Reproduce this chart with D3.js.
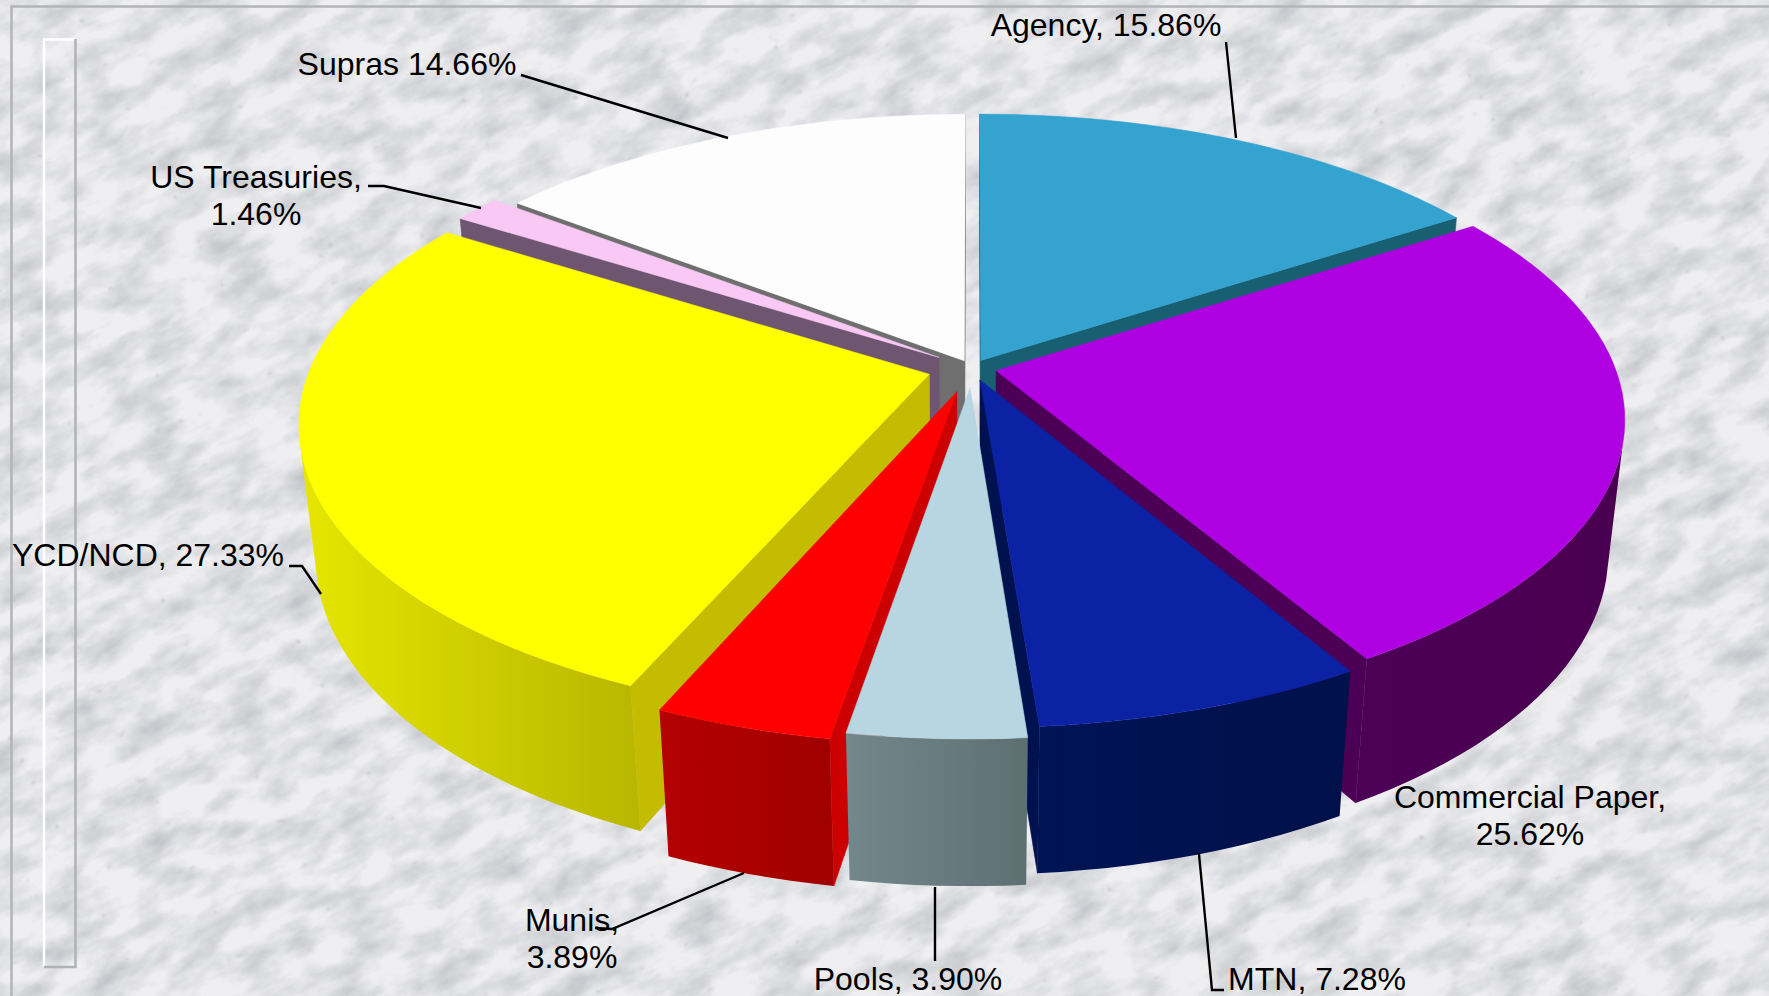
<!DOCTYPE html>
<html>
<head>
<meta charset="utf-8">
<script src="https://cdn.jsdelivr.net/npm/d3@7"></script>
<style>
  html, body { margin: 0; padding: 0; background: #e8e8ec; overflow: hidden; }
</style>
</head>
<body>
<div id="chart"></div>
<script>
// Data
const categories = ["Agency", "Commercial Paper", "MTN", "Pools", "Munis", "YCD/NCD", "US Treasuries", "Supras"];
const shares = [15.86, 25.62, 7.28, 3.90, 3.89, 27.33, 1.46, 14.66];
const labelLines = [
  ["Agency, 15.86%"],
  ["Commercial Paper,", "25.62%"],
  ["MTN, 7.28%"],
  ["Pools, 3.90%"],
  ["Munis,", "3.89%"],
  ["YCD/NCD, 27.33%"],
  ["US Treasuries,", "1.46%"],
  ["Supras 14.66%"],
];

// Styles and layout, same order as categories
const explode = [0.03, 0.04, 0.043, 0.068, 0.085, 0.072, 0.065, 0.028];
const topColors = ["#35a3cf", "#ae00e0", "#0c22a5", "#b7d6e2", "#ff0000", "#ffff00", "#f9c8f5", "#fdfdfd"];
const cutColors = ["#185f72", "#4b0056", "#00114f", "#65787c", "#cc0000", "#c4bc00", "#6f5670", "#6f6f6f"];
const wallLeft = ["#1c6a80", "#4c0056", "#001354", "#73888c", "#b40000", "#e6e600", "#6f5670", "#6f6f6f"];
const wallRight = ["#1c6a80", "#4a0050", "#00104a", "#5e6f72", "#a00000", "#b8b600", "#6f5670", "#6f6f6f"];
const paintOrder = [0, 7, 6, 1, 5, 2, 4, 3];
const labelPos = [
  { x: 1106, y: 36 },
  { x: 1530, y: 808 },
  { x: 1317, y: 990 },
  { x: 908, y: 990 },
  { x: 572, y: 931 },
  { x: 148, y: 566 },
  { x: 256, y: 188 },
  { x: 407, y: 75 },
];
const leaders = [
  [[1226, 42], [1236, 138]],
  [],
  [[1199, 854], [1212, 990], [1224, 990]],
  [[935, 887], [935, 961]],
  [[595, 928], [612, 929], [744, 873]],
  [[289, 566], [302, 566], [321, 594]],
  [[368, 186], [384, 186], [481, 208]],
  [[521, 75], [728, 138]],
];

const width = 1769;
const height = 996;

// Projection of the pie: X right, Y to the back, z 0 = top, 1 = bottom
const view = { cx: 972, cy: 368, radius: 619, depth: 288, wall: 135, persp: 0.16, drop: 0.025 };

function project(X, Y, z) {
  const s = 1 / (1 + view.persp * Y + view.drop * z);
  return [view.cx + view.radius * X * s, view.cy - view.depth * Y * s + view.wall * z * s];
}

const svg = d3.select("#chart").append("svg").attr("width", width).attr("height", height)
  .style("display", "block");

// Marble background
const defs = svg.append("defs");
const marble = defs.append("filter").attr("id", "marble")
  .attr("x", 0).attr("y", 0).attr("width", "100%").attr("height", "100%")
  .attr("color-interpolation-filters", "sRGB");
marble.append("feTurbulence").attr("type", "fractalNoise").attr("baseFrequency", "0.02 0.04")
  .attr("numOctaves", 6).attr("seed", 23).attr("result", "cloud");
marble.append("feColorMatrix").attr("in", "cloud").attr("type", "matrix")
  .attr("values", "0 0 0 0 0.68  0 0 0 0 0.69  0 0 0 0 0.71  1.2 0 0 0 -0.42").attr("result", "shade");
marble.append("feTurbulence").attr("type", "turbulence").attr("baseFrequency", "0.01 0.02")
  .attr("numOctaves", 4).attr("seed", 8).attr("result", "vein");
marble.append("feColorMatrix").attr("in", "vein").attr("type", "matrix")
  .attr("values", "0 0 0 0 0.58  0 0 0 0 0.58  0 0 0 0 0.6  -9 0 0 0 0.42").attr("result", "veinShade");
marble.append("feGaussianBlur").attr("in", "veinShade").attr("stdDeviation", 1).attr("result", "veinSoft");
marble.append("feFlood").attr("flood-color", "#efeff2").attr("result", "base");
marble.append("feMerge").call((m) => {
  m.append("feMergeNode").attr("in", "base");
  m.append("feMergeNode").attr("in", "shade");
  m.append("feMergeNode").attr("in", "veinSoft");
});
svg.append("rect")
  .attr("x", -500).attr("y", -700).attr("width", 2800).attr("height", 2400)
  .attr("transform", `rotate(-28 ${width / 2} ${height / 2})`)
  .attr("filter", "url(#marble)");

// Chart frame and the empty box on the left
const frame = svg.append("g").attr("fill", "none");
frame.append("path").attr("d", d3.line()([[11.5, height], [11.5, 6.5], [width, 6.5]]))
  .attr("stroke", "#b2b4b6").attr("stroke-width", 2.5);
frame.append("path").attr("d", d3.line()([[44, 966.5], [44, 39.5], [75.5, 39.5]]))
  .attr("stroke", "#ffffff").attr("stroke-width", 2.5);
frame.append("path").attr("d", d3.line()([[75.5, 39], [75.5, 967], [44, 967]]))
  .attr("stroke", "#b0b2b4").attr("stroke-width", 2.5);

// Slices
const pie = d3.pie().sort(null).value((d) => d);
const arcs = pie(shares);
const line = d3.line();
const stepAngle = (2 * Math.PI) / 180;
const pieGroup = svg.append("g");

// d3.polygonArea is positive for the faces that look at the camera here
function drawFace(pts, color) {
  if (d3.polygonArea(pts) <= 0) return;
  pieGroup.append("path").attr("d", line(pts) + "Z")
    .attr("fill", color).attr("stroke", color).attr("stroke-width", 0.6);
}

paintOrder.forEach((i) => {
  const a = arcs[i];
  const mid = (a.startAngle + a.endAngle) / 2;
  const ox = explode[i] * Math.sin(mid);
  const oy = explode[i] * Math.cos(mid);
  const rim = (t) => [ox + Math.sin(t), oy + Math.cos(t)];

  const n = Math.max(2, Math.ceil((a.endAngle - a.startAngle) / stepAngle));
  const angles = d3.range(n + 1).map((k) => a.startAngle + ((a.endAngle - a.startAngle) * k) / n);
  const at = (p, z) => project(p[0], p[1], z);
  const apex = [ox, oy];

  // cut faces
  const r0 = rim(a.startAngle);
  const r1 = rim(a.endAngle);
  drawFace([at(apex, 0), at(r0, 0), at(r0, 1), at(apex, 1)], cutColors[i]);
  drawFace([at(r1, 0), at(apex, 0), at(apex, 1), at(r1, 1)], cutColors[i]);

  // outer wall: the part of the rim facing the camera, shaded left to right
  const visible = angles.filter((t, k) => {
    const t1 = angles[Math.min(k + 1, n)];
    const t0 = angles[Math.max(k - 1, 0)];
    const p0 = rim(t0);
    const p1 = rim(t1);
    return d3.polygonArea([at(p0, 0), at(p1, 0), at(p1, 1), at(p0, 1)]) > 0;
  });
  if (visible.length > 1) {
    const wallPts = visible.map((t) => at(rim(t), 0))
      .concat(visible.slice().reverse().map((t) => at(rim(t), 1)));
    const gradId = `wall-${i}`;
    const grad = defs.append("linearGradient").attr("id", gradId)
      .attr("gradientUnits", "userSpaceOnUse")
      .attr("x1", d3.min(wallPts, (d) => d[0])).attr("x2", d3.max(wallPts, (d) => d[0]))
      .attr("y1", 0).attr("y2", 0);
    grad.append("stop").attr("offset", 0).attr("stop-color", wallLeft[i]);
    grad.append("stop").attr("offset", 1).attr("stop-color", wallRight[i]);
    pieGroup.append("path").attr("d", line(wallPts) + "Z").attr("fill", `url(#${gradId})`);
  }

  // top surface
  const topPts = [at(apex, 0)].concat(angles.map((t) => at(rim(t), 0)));
  pieGroup.append("path").attr("d", line(topPts) + "Z")
    .attr("fill", topColors[i]).attr("stroke", topColors[i]).attr("stroke-width", 0.5);
});

// Leader lines and labels
svg.append("g").selectAll("path").data(leaders.filter((d) => d.length)).enter().append("path")
  .attr("d", (d) => line(d))
  .attr("fill", "none").attr("stroke", "#000").attr("stroke-width", 2.4);

const labels = svg.append("g")
  .attr("font-family", "'Liberation Sans', Arial, sans-serif")
  .attr("font-size", 32).attr("fill", "#000").attr("text-anchor", "middle");
labelLines.forEach((lines, i) => {
  lines.forEach((t, j) => {
    labels.append("text").attr("x", labelPos[i].x).attr("y", labelPos[i].y + j * 37).text(t);
  });
});
</script>
</body>
</html>
